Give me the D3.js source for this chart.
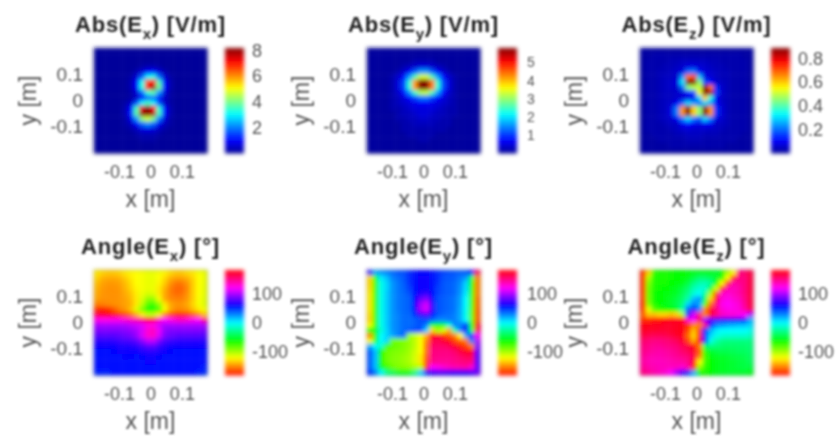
<!DOCTYPE html>
<html>
<head>
<meta charset="utf-8">
<style>
  html, body { margin: 0; background: #fff; }
  svg { display: block; }
  text { font-family: "Liberation Sans", Arial, sans-serif; }
</style>
</head>
<body>
<div id="chart"></div>
<script src="https://cdn.jsdelivr.net/npm/d3@7"></script>
<script>
const xTicks = [-0.1, 0, 0.1];
const yTicks = [-0.1, 0, 0.1];
const absExTicks = [2, 4, 6, 8];
const absEyTicks = [1, 2, 3, 4, 5];
const absEzTicks = [0.2, 0.4, 0.6, 0.8];
const angleTicks = [-100, 0, 100];

const absExGrid = [
  [.1,.1,.1,.1,.1,.1,.1,.1,.1,.1,.1,.1,.1,.1,.1,.1,.1,.1,.1,.1],
  [.1,.1,.1,.1,.1,.1,.1,.1,.1,.1,.1,.1,.1,.1,.1,.1,.1,.1,.1,.1],
  [.1,.1,.1,.1,.1,.1,.1,.1,.1,.1,.1,.1,.1,.1,.1,.1,.1,.1,.1,.1],
  [.1,.1,.1,.1,.1,.1,.1,.1,.2,.3,.3,.2,.1,.1,.1,.1,.1,.1,.1,.1],
  [.1,.1,.1,.1,.1,.1,.1,.3,.6,1.1,1.2,.7,.3,.1,.1,.1,.1,.1,.1,.1],
  [.1,.1,.1,.1,.1,.1,.2,.6,1.7,3,3.3,1.9,.6,.2,.1,.1,.1,.1,.1,.1],
  [.1,.1,.1,.1,.1,.1,.3,1,3.2,6.6,7,3.6,1,.3,.1,.1,.1,.1,.1,.1],
  [.1,.1,.1,.1,.1,.1,.3,1,3.3,7.2,8,4,1.1,.3,.1,.1,.1,.1,.1,.1],
  [.1,.1,.1,.1,.1,.1,.2,.6,1.8,3.4,3.8,2.2,.7,.2,.1,.1,.1,.1,.1,.1],
  [.1,.1,.1,.1,.1,.1,.2,.5,1.2,1.9,2,1.3,.5,.2,.1,.1,.1,.1,.1,.1],
  [.1,.1,.1,.1,.1,.2,.5,1.6,3,3.6,3,1.6,.5,.2,.1,.1,.1,.1,.1,.1],
  [.1,.1,.1,.1,.1,.3,1.1,3.6,7.4,9,7.2,3.4,1.1,.3,.1,.1,.1,.1,.1,.1],
  [.1,.1,.1,.1,.1,.3,1.2,3.8,8,10,7.8,3.6,1.1,.3,.1,.1,.1,.1,.1,.1],
  [.1,.1,.1,.1,.1,.2,.8,2.2,4.2,4.8,4,2,.7,.2,.1,.1,.1,.1,.1,.1],
  [.1,.1,.1,.1,.1,.2,.4,1,1.8,2.2,1.8,.9,.4,.2,.1,.1,.1,.1,.1,.1],
  [.1,.1,.1,.1,.1,.1,.2,.4,.7,.8,.7,.4,.2,.1,.1,.1,.1,.1,.1,.1],
  [.1,.1,.1,.1,.1,.1,.1,.2,.3,.3,.3,.2,.1,.1,.1,.1,.1,.1,.1,.1],
  [.1,.1,.1,.1,.1,.1,.1,.1,.2,.2,.2,.1,.1,.1,.1,.1,.1,.1,.1,.1],
  [.1,.1,.1,.1,.1,.1,.1,.1,.1,.1,.1,.1,.1,.1,.1,.1,.1,.1,.1,.1],
  [.1,.1,.1,.1,.1,.1,.1,.1,.1,.1,.1,.1,.1,.1,.1,.1,.1,.1,.1,.1]
];

const absEyGrid = [
  [.1,.1,.1,.1,.1,.1,.1,.1,.1,.1,.1,.1,.1,.1,.1,.1,.1,.1,.1,.1],
  [.1,.1,.1,.1,.1,.1,.1,.1,.1,.1,.1,.1,.1,.1,.1,.1,.1,.1,.1,.1],
  [.1,.1,.1,.1,.1,.1,.1,.1,.2,.2,.2,.2,.1,.1,.1,.1,.1,.1,.1,.1],
  [.1,.1,.1,.1,.1,.1,.2,.3,.4,.5,.5,.4,.3,.2,.1,.1,.1,.1,.1,.1],
  [.1,.1,.1,.1,.1,.2,.4,.7,1.2,1.6,1.6,1.2,.7,.4,.2,.1,.1,.1,.1,.1],
  [.1,.1,.1,.1,.2,.4,.8,1.6,2.6,3.4,3.4,2.6,1.6,.8,.4,.2,.1,.1,.1,.1],
  [.1,.1,.1,.1,.2,.5,1.1,2.4,4.2,6.6,7,4.4,2.4,1.1,.5,.2,.1,.1,.1,.1],
  [.1,.1,.1,.1,.2,.5,1.1,2.4,4.2,6.8,7.2,4.4,2.4,1.1,.5,.2,.1,.1,.1,.1],
  [.1,.1,.1,.1,.2,.4,.8,1.5,2.5,3.2,3.3,2.6,1.6,.8,.4,.2,.1,.1,.1,.1],
  [.1,.1,.1,.1,.2,.3,.5,.8,1.1,1.4,1.4,1.1,.8,.5,.3,.2,.1,.1,.1,.1],
  [.1,.1,.1,.1,.2,.3,.4,.5,.6,.7,.7,.6,.5,.4,.3,.2,.1,.1,.1,.1],
  [.1,.1,.1,.1,.2,.2,.3,.4,.5,.5,.5,.5,.4,.3,.2,.2,.1,.1,.1,.1],
  [.1,.1,.1,.1,.1,.2,.3,.3,.4,.5,.5,.4,.3,.3,.2,.2,.1,.1,.1,.1],
  [.1,.1,.1,.1,.1,.2,.2,.3,.3,.4,.4,.3,.3,.2,.2,.1,.1,.1,.1,.1],
  [.1,.1,.1,.1,.1,.1,.2,.2,.3,.3,.3,.3,.2,.2,.2,.1,.1,.1,.1,.1],
  [.1,.1,.1,.1,.1,.1,.2,.2,.2,.2,.2,.2,.2,.2,.1,.1,.1,.1,.1,.1],
  [.1,.1,.1,.1,.1,.1,.1,.2,.2,.2,.2,.2,.1,.1,.1,.1,.1,.1,.1,.1],
  [.1,.1,.1,.1,.1,.1,.1,.1,.1,.2,.2,.1,.1,.1,.1,.1,.1,.1,.1,.1],
  [.1,.1,.1,.1,.1,.1,.1,.1,.1,.1,.1,.1,.1,.1,.1,.1,.1,.1,.1,.1],
  [.1,.1,.1,.1,.1,.1,.1,.1,.1,.1,.1,.1,.1,.1,.1,.1,.1,.1,.1,.1]
];

const absEzGrid = [
  [.02,.02,.02,.02,.02,.02,.02,.02,.02,.02,.02,.02,.02,.02,.02,.02,.02,.02,.02,.02],
  [.02,.02,.03,.03,.03,.03,.03,.03,.03,.03,.03,.03,.03,.03,.03,.03,.03,.03,.02,.02],
  [.02,.03,.03,.03,.03,.04,.04,.05,.05,.05,.05,.05,.04,.04,.03,.03,.03,.03,.03,.02],
  [.02,.03,.03,.03,.04,.04,.05,.06,.08,.08,.07,.06,.05,.04,.04,.03,.03,.03,.03,.02],
  [.02,.03,.03,.04,.04,.05,.06,.08,.2,.22,.1,.07,.06,.05,.04,.04,.03,.03,.03,.02],
  [.02,.03,.03,.04,.05,.05,.06,.24,.68,.72,.28,.08,.07,.05,.04,.04,.03,.03,.03,.02],
  [.02,.03,.03,.04,.05,.06,.08,.32,1.3,1.4,.46,.18,.12,.06,.05,.04,.03,.03,.03,.02],
  [.02,.03,.03,.04,.05,.06,.06,.2,.45,.5,.5,1.05,.68,.14,.06,.04,.03,.03,.03,.02],
  [.02,.03,.03,.04,.05,.05,.06,.07,.12,.18,.55,1.45,.85,.16,.06,.04,.03,.03,.03,.02],
  [.02,.03,.03,.04,.05,.05,.06,.07,.08,.1,.3,.6,.36,.1,.05,.04,.03,.03,.03,.02],
  [.02,.03,.03,.04,.05,.06,.1,.2,.3,.25,.2,.3,.25,.1,.06,.04,.03,.03,.03,.02],
  [.02,.03,.03,.04,.05,.08,.22,.65,1.05,.6,.45,1.1,.65,.15,.07,.04,.03,.03,.03,.02],
  [.02,.03,.03,.04,.05,.08,.22,.65,1.1,.6,.45,1.15,.65,.15,.07,.04,.03,.03,.03,.02],
  [.02,.03,.03,.04,.05,.06,.1,.22,.3,.22,.18,.3,.22,.08,.06,.04,.03,.03,.03,.02],
  [.02,.03,.03,.03,.04,.05,.05,.1,.12,.1,.08,.1,.1,.05,.05,.04,.03,.03,.03,.02],
  [.02,.03,.03,.03,.03,.04,.05,.06,.07,.06,.06,.06,.05,.05,.04,.03,.03,.03,.03,.02],
  [.02,.02,.03,.03,.03,.03,.04,.04,.05,.05,.05,.04,.04,.04,.03,.03,.03,.03,.02,.02],
  [.02,.02,.02,.03,.03,.03,.03,.03,.04,.04,.04,.03,.03,.03,.03,.03,.03,.02,.02,.02],
  [.02,.02,.02,.02,.02,.03,.03,.03,.03,.03,.03,.03,.03,.03,.03,.02,.02,.02,.02,.02],
  [.02,.02,.02,.02,.02,.02,.02,.02,.02,.02,.02,.02,.02,.02,.02,.02,.02,.02,.02,.02]
];

const angleExGrid = [
  [-125,-130,-132,-132,-130,-125,-122,-120,-118,-115,-115,-118,-122,-128,-132,-132,-128,-125,-118,-115],
  [-130,-138,-140,-140,-138,-132,-125,-120,-118,-115,-115,-120,-128,-138,-142,-142,-138,-130,-120,-115],
  [-135,-142,-144,-144,-142,-136,-128,-120,-118,-115,-115,-122,-132,-145,-152,-152,-145,-132,-120,-115],
  [-138,-144,-146,-146,-144,-138,-130,-122,-118,-115,-116,-125,-138,-150,-156,-156,-148,-132,-120,-114],
  [-140,-145,-146,-146,-145,-140,-134,-124,-116,-110,-112,-125,-140,-150,-155,-154,-146,-132,-120,-114],
  [-142,-146,-146,-146,-145,-142,-136,-125,-112,-95,-95,-118,-140,-148,-150,-150,-144,-132,-119,-113],
  [-150,-150,-148,-146,-145,-142,-138,-125,-105,-80,-75,-95,-125,-140,-145,-145,-140,-130,-118,-112],
  [-170,-175,-170,-160,-150,-145,-135,-112,-90,-65,-62,-80,-118,-140,-148,-148,-145,-135,-125,-118],
  [165,172,178,-178,-172,-165,-155,-140,-125,-105,-105,-125,-150,-165,-172,-175,-170,-160,-150,-135],
  [125,125,125,125,125,130,135,140,150,165,160,135,120,125,130,135,130,125,120,150],
  [100,100,100,100,100,100,105,108,112,125,125,110,100,100,100,100,100,100,100,100],
  [90,90,90,90,90,92,95,100,110,130,135,115,95,90,90,90,90,90,90,88],
  [80,80,80,80,82,85,88,95,110,130,133,110,90,85,82,80,80,80,80,78],
  [70,70,70,72,74,76,78,82,92,105,105,90,78,74,72,70,70,70,70,68],
  [62,62,62,64,66,66,68,70,76,82,82,74,68,64,62,62,62,62,62,62],
  [58,58,58,60,62,62,62,64,66,70,70,66,62,60,58,58,58,58,58,58],
  [56,56,56,56,58,60,60,58,60,64,64,60,58,58,58,56,56,56,56,56],
  [56,56,56,56,58,58,56,56,58,62,62,58,56,56,58,58,56,56,56,56],
  [56,56,56,56,56,56,56,56,56,58,58,56,56,56,56,56,56,56,56,54],
  [54,54,54,56,56,56,56,56,56,56,56,56,56,56,56,56,56,56,54,50]
];

const angleEyGrid = [
  [70,20,25,30,35,40,42,50,58,60,60,58,50,45,42,40,38,40,60,160],
  [-130,-50,5,15,30,35,40,50,58,62,62,58,50,42,40,38,32,25,-40,-150],
  [-130,-70,-5,10,25,32,38,48,56,62,62,56,48,40,38,35,28,10,-60,-150],
  [-128,-70,-5,10,25,32,37,46,56,62,64,56,46,40,38,35,26,8,-65,-150],
  [-125,-70,-5,12,25,32,36,42,58,68,72,60,45,40,38,35,25,5,-70,-150],
  [-125,-70,-5,12,25,32,35,38,60,82,90,64,42,38,36,32,22,0,-75,-155],
  [-125,-70,-5,12,25,32,35,38,62,98,110,72,42,38,36,32,22,0,-75,-155],
  [-125,-70,-5,12,25,32,35,38,58,100,112,72,42,38,36,32,20,-2,-78,-158],
  [-128,-70,-5,12,25,30,35,36,50,72,78,58,40,36,34,30,20,-5,-80,-160],
  [-130,-70,-5,12,25,30,35,35,38,42,45,38,30,28,32,30,20,0,-80,-160],
  [-120,-70,-5,12,25,30,35,35,38,42,30,-40,-60,-50,-10,28,30,50,-60,170],
  [-60,-50,-10,10,25,30,35,38,42,40,10,-130,-100,-110,-140,-20,30,50,-40,160],
  [-150,-60,0,10,20,30,35,-95,-105,-115,-140,178,170,-170,-160,-150,-120,20,60,120],
  [-120,-50,0,10,-85,-88,-90,-95,-105,-120,-150,165,160,170,178,-165,-155,-150,30,100],
  [20,0,-10,-75,-82,-85,-90,-95,-105,-120,-155,155,155,155,160,170,-175,-165,-150,90],
  [40,15,-60,-85,-88,-90,-92,-98,-108,-120,-155,150,150,150,150,155,165,175,170,85],
  [40,15,-65,-85,-90,-92,-96,-100,-110,-125,-160,150,148,148,148,150,155,160,160,80],
  [40,15,-65,-85,-90,-92,-96,-100,-110,-125,-165,148,145,145,145,148,150,152,150,80],
  [40,15,-50,-75,-85,-90,-92,-95,-100,-105,-170,120,125,130,135,138,140,142,130,82],
  [50,30,0,-30,-40,-50,-55,-50,-30,10,50,70,75,75,72,70,70,70,75,85]
];

const angleEzGrid = [
  [-170,-130,-70,-65,-65,-62,-60,-60,-58,-55,-55,-55,-55,-50,-60,-100,-120,150,155,165],
  [-170,-100,-68,-65,-65,-62,-60,-58,-55,-45,-35,-35,-40,-50,-70,-120,-170,150,150,165],
  [-170,-90,-68,-65,-65,-60,-58,-55,-45,-30,-20,-18,-25,-60,-120,-170,140,145,150,165],
  [-170,-85,-66,-62,-60,-58,-52,-45,-35,-18,-10,-10,-50,-110,-170,140,135,140,150,165],
  [-170,-85,-64,-60,-58,-55,-50,-40,-28,-10,0,-25,-100,-165,135,130,135,140,150,165],
  [-170,-85,-64,-60,-58,-52,-45,-35,-20,15,25,-40,-130,175,130,125,130,135,148,165],
  [-175,-90,-66,-60,-55,-50,-42,-30,10,30,20,-80,-155,150,125,120,125,130,145,165],
  [-170,-115,-80,-70,-65,-60,-50,-20,40,55,30,-150,170,150,130,125,125,128,140,160],
  [-160,-135,-135,-130,-130,-135,-130,-100,60,110,150,-150,175,150,135,130,130,125,120,100],
  [-170,-170,-175,-175,178,175,172,170,130,120,160,100,85,75,70,68,65,62,55,20],
  [175,175,172,172,170,170,172,175,-170,-150,-150,150,60,30,25,20,18,15,15,10],
  [172,170,170,168,168,170,172,175,-165,-135,-165,50,20,5,0,0,0,0,0,-5],
  [165,162,160,160,162,165,170,175,-155,-130,-170,50,10,-5,-10,-12,-12,-12,-12,-15],
  [155,152,150,150,152,155,160,170,-165,-140,178,60,-5,-20,-28,-30,-30,-30,-30,-30],
  [150,148,145,145,148,150,152,160,165,178,-150,-40,-30,-32,-35,-36,-36,-35,-35,-33],
  [148,145,142,140,142,145,148,155,160,170,-160,-70,-50,-45,-42,-42,-40,-38,-38,-35],
  [145,140,138,138,140,142,145,148,152,165,-150,-75,-58,-52,-50,-48,-46,-44,-42,-38],
  [142,138,136,135,136,138,140,142,148,175,-120,-75,-60,-55,-52,-50,-48,-46,-44,-40],
  [145,140,138,136,136,135,135,130,140,-170,-95,-72,-60,-55,-52,-50,-48,-46,-44,-45],
  [150,145,140,135,130,120,100,75,50,20,-60,-65,-60,-55,-52,-50,-50,-50,-50,-55]
];

const jetColors = ['#00008f', '#0000ff', '#00ffff', '#ffff00', '#ff0000', '#800000'];
const jetStops = [0, 0.125, 0.375, 0.625, 0.875, 1];
const jet = d3.scaleLinear().domain(jetStops).range(jetColors).clamp(true);
const hsv = (t) => d3.hsl(360 * t, 1, 0.5).formatRgb();
const tickLabel = (d) => String(d); // plain hyphen, like the picture

const chartWidth = 838;
const chartHeight = 437;
const panelWidth = 113; // Width of a map in pixels
const panelHeight = 105;
const barWidth = 19; // Width of a colorbar in pixels

const svg = d3.select('#chart')
  .append('svg')
  .attr('width', chartWidth)
  .attr('height', chartHeight);

// The reference is a blurry upscale, so everything gets a soft filter
const defs = svg.append('defs');
[['softMap', 1.9], ['softText', 1]].forEach(([id, dev]) => {
  defs.append('filter')
    .attr('id', id)
    .attr('filterUnits', 'userSpaceOnUse')
    .attr('x', 0).attr('y', 0)
    .attr('width', chartWidth).attr('height', chartHeight)
    .append('feGaussianBlur')
    .attr('stdDeviation', dev);
});

const mapLayer = svg.append('g').attr('filter', 'url(#softMap)');
const textLayer = svg.append('g').attr('filter', 'url(#softText)');

function drawPanel (p) {
  const color = p.colors;
  // x runs a little narrower than y, the tick labels in the picture sit further apart
  const x = d3.scaleLinear().domain([-0.18, 0.18]).range([p.left, p.left + panelWidth]);
  const y = d3.scaleLinear().domain([-0.2, 0.2]).range([p.top + panelHeight, p.top]);
  const col = d3.scaleBand().domain(d3.range(p.grid[0].length)).range([p.left, p.left + panelWidth]);
  const row = d3.scaleBand().domain(d3.range(p.grid.length)).range([p.top, p.top + panelHeight]);

  const cells = p.grid.flatMap((values, r) => values.map((value, c) => ({r, c, value})));

  mapLayer.append('g')
    .selectAll('rect')
    .data(cells)
    .enter()
    .append('rect')
    .attr('x', (d) => col(d.c))
    .attr('y', (d) => row(d.r))
    .attr('width', col.bandwidth() + 0.5)
    .attr('height', row.bandwidth() + 0.5)
    .attr('fill', (d) => color(d.value));

  mapLayer.append('rect')
    .attr('x', p.left)
    .attr('y', p.top)
    .attr('width', panelWidth)
    .attr('height', panelHeight)
    .attr('fill', 'none')
    .attr('stroke', '#333')
    .attr('stroke-opacity', 0.45);

  // colorbar
  const barLeft = p.left + p.barOffset;
  const barScale = d3.scaleLinear().domain(color.domain()).range([p.top + panelHeight, p.top]);
  const levels = d3.range(64);
  const levelHeight = panelHeight / 64;
  mapLayer.append('g')
    .selectAll('rect')
    .data(levels)
    .enter()
    .append('rect')
    .attr('x', barLeft)
    .attr('y', (d) => p.top + panelHeight - (d + 1) * levelHeight)
    .attr('width', barWidth)
    .attr('height', levelHeight + 0.5)
    .attr('fill', (d) => color(color.domain()[0] + (d + 0.5) / 64 * (color.domain()[1] - color.domain()[0])));

  const axisText = (g, size) => {
    g.select('.domain').remove();
    g.selectAll('line').remove();
    g.selectAll('text')
      .attr('fill', '#555')
      .attr('font-size', size);
  };

  textLayer.append('g')
    .attr('transform', 'translate(0,' + (p.top + panelHeight + 9) + ')')
    .call(d3.axisBottom(x).tickValues(xTicks).tickSize(0).tickFormat(tickLabel))
    .call(axisText, 18);

  textLayer.append('g')
    .attr('transform', 'translate(' + (p.left - 11) + ',0)')
    .call(d3.axisLeft(y).tickValues(yTicks).tickSize(0).tickPadding(0).tickFormat(tickLabel))
    .call(axisText, 19);

  textLayer.append('g')
    .attr('transform', 'translate(' + (barLeft + barWidth + p.barGap) + ',0)')
    .call(d3.axisRight(barScale).tickValues(p.barTicks).tickSize(0).tickPadding(0).tickFormat(tickLabel))
    .call(axisText, p.barFont);

  // labels and title
  const center = p.left + panelWidth / 2;
  textLayer.append('text')
    .attr('x', center)
    .attr('y', p.top + panelHeight + 54)
    .attr('text-anchor', 'middle')
    .attr('font-size', 23)
    .attr('fill', '#555')
    .text('x [m]');

  textLayer.append('text')
    .attr('transform', 'translate(' + (p.left - 58) + ',' + (p.top + panelHeight / 2) + ') rotate(-90)')
    .attr('text-anchor', 'middle')
    .attr('font-size', 23)
    .attr('fill', '#555')
    .text('y [m]');

  const title = textLayer.append('text')
    .attr('x', center)
    .attr('y', p.top - 16)
    .attr('text-anchor', 'middle')
    .attr('font-size', 22)
    .attr('font-weight', 'bold')
    .attr('letter-spacing', 0.8)
    .attr('fill', '#222');
  title.append('tspan').text(p.name + '(E');
  title.append('tspan').attr('dy', 7).attr('font-size', 15).text(p.sub);
  title.append('tspan').attr('dy', -7).text(') ' + p.unit);
}

const absExColor = d3.scaleSequential((t) => jet(t)).domain([0, 8.2]);
const absEyColor = d3.scaleSequential((t) => jet(t)).domain([0, 5.8]);
const absEzColor = d3.scaleSequential((t) => jet(t)).domain([0, 0.89]);
const angleColor = d3.scaleSequential(hsv).domain([-180, 180]);

const topRow = 48;
const bottomRow = 270;

drawPanel({name: 'Abs', sub: 'x', unit: '[V/m]', left: 94, top: topRow, barOffset: 131, barGap: 8, grid: absExGrid, colors: absExColor, barTicks: absExTicks, barFont: 18});
drawPanel({name: 'Abs', sub: 'y', unit: '[V/m]', left: 367, top: topRow, barOffset: 131, barGap: 10, grid: absEyGrid, colors: absEyColor, barTicks: absEyTicks, barFont: 14});
drawPanel({name: 'Abs', sub: 'z', unit: '[V/m]', left: 640, top: topRow, barOffset: 131, barGap: 8, grid: absEzGrid, colors: absEzColor, barTicks: absEzTicks, barFont: 18});
drawPanel({name: 'Angle', sub: 'x', unit: '[°]', left: 94, top: bottomRow, barOffset: 131, barGap: 8, grid: angleExGrid, colors: angleColor, barTicks: angleTicks, barFont: 18});
drawPanel({name: 'Angle', sub: 'y', unit: '[°]', left: 367, top: bottomRow, barOffset: 131, barGap: 10, grid: angleEyGrid, colors: angleColor, barTicks: angleTicks, barFont: 18});
drawPanel({name: 'Angle', sub: 'z', unit: '[°]', left: 640, top: bottomRow, barOffset: 131, barGap: 8, grid: angleEzGrid, colors: angleColor, barTicks: angleTicks, barFont: 18});
</script>
</body>
</html>
